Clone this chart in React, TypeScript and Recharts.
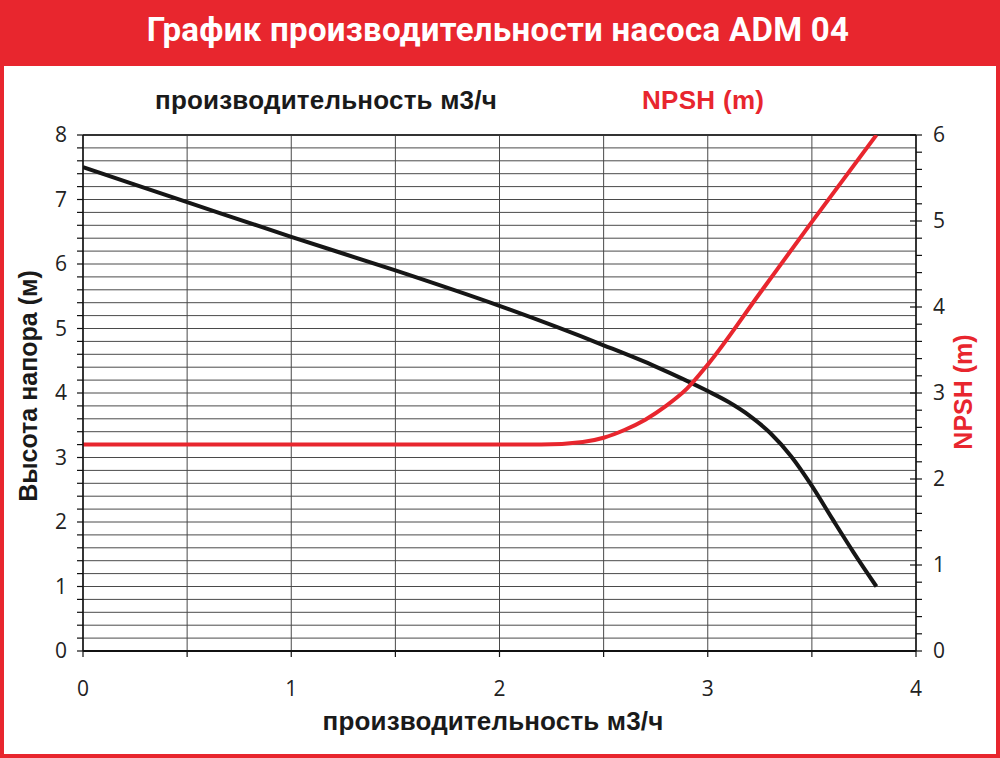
import React from 'react';
import { ComposedChart, Line, XAxis, YAxis, CartesianGrid, ReferenceLine } from 'recharts';

const TITLE = 'График производительности насоса ADM 04';
const X_LABEL = 'производительность м3/ч';
const Y_LABEL = 'Высота напора (м)';
const NPSH_LABEL = 'NPSH (m)';

const flowHead = [0, 0.5, 1, 1.5, 2, 2.5, 2.75, 3, 3.1, 3.2, 3.3, 3.4, 3.5, 3.6, 3.7, 3.81];
const headValues = [7.5, 6.96, 6.42, 5.9, 5.35, 4.74, 4.41, 4.03, 3.86, 3.65, 3.38, 3.02, 2.56, 2.04, 1.53, 1.0];

const flowNpsh = [0, 2.2, 2.4, 2.5, 2.6, 2.7, 2.8, 2.9, 3.0, 3.25, 3.5, 3.81];
const npshValues = [2.4, 2.4, 2.43, 2.48, 2.57, 2.69, 2.85, 3.05, 3.33, 4.16, 4.99, 6.0];

const xTicks = [0, 0.5, 1, 1.5, 2, 2.5, 3, 3.5, 4];
const headTicks = Array.from({ length: 41 }, (_, i) => i / 5);
const npshTicks = Array.from({ length: 31 }, (_, i) => i / 5);

const headData = flowHead.map((q, i) => ({ q, head: headValues[i] }));
const npshData = flowNpsh.map((q, i) => ({ q, npsh: npshValues[i] }));

const RED = '#E8262E';
const TICK_FONT = { fill: '#222', fontSize: 21, fontFamily: 'Open Sans' };
const BOLD = 'Liberation Sans, Arial, sans-serif';

const isInt = (v: number) => Math.abs(v - Math.round(v)) < 1e-6;
const intLabel = (v: number) => (isInt(v) ? String(Math.round(v)) : '');

const RIGHT_TICK_SIZE = 6;
const RIGHT_TICK_MARGIN = 11;

const RightTick = (props: any) => {
  const { x, y, payload } = props;
  const v = payload.value as number;
  const axisX = x - RIGHT_TICK_SIZE - RIGHT_TICK_MARGIN;
  if (!isInt(v)) return <g />;
  return (
    <g>
      <line x1={axisX - 6} x2={axisX} y1={y} y2={y} stroke="#111" strokeWidth={1.2} />
      <text x={x} y={y} dy="0.35em" textAnchor="start" {...TICK_FONT}>
        {String(Math.round(v))}
      </text>
    </g>
  );
};

export default function App() {
  return (
    <div style={{ position: 'absolute', left: 0, top: 0, width: 1000, height: 758, background: '#fff', overflow: 'hidden' }}>
      <div style={{ position: 'absolute', left: 0, top: 0, width: 1000, height: 66, background: RED }} />
      <div
        style={{
          position: 'absolute', left: 0, top: 0, width: 1000, height: 758, boxSizing: 'border-box',
          borderLeft: `4px solid ${RED}`, borderRight: `4px solid ${RED}`, borderBottom: `4px solid ${RED}`,
        }}
      />
      <div style={{ position: 'absolute', left: 0, top: 0 }}>
        <ComposedChart
          width={1000}
          height={758}
          margin={{ top: 135, right: 24, bottom: 47, left: 33 }}
        >
          <CartesianGrid yAxisId="h" stroke="#4a4a4a" strokeWidth={1} horizontal vertical />
          <XAxis
            dataKey="q"
            type="number"
            domain={[0, 4]}
            ticks={xTicks}
            tickFormatter={intLabel}
            height={60}
            tickSize={6}
            tickMargin={24}
            axisLine={{ stroke: '#111', strokeWidth: 2 }}
            tickLine={{ stroke: '#111', strokeWidth: 1.2 }}
            tick={TICK_FONT}
            allowDataOverflow
            interval={0}
          />
          <YAxis
            yAxisId="h"
            orientation="left"
            type="number"
            domain={[0, 8]}
            ticks={headTicks}
            tickFormatter={intLabel}
            width={50}
            tickSize={6}
            tickMargin={10}
            axisLine={{ stroke: '#111', strokeWidth: 1.5 }}
            tickLine={{ stroke: '#111', strokeWidth: 1.2 }}
            tick={TICK_FONT}
            interval={0}
            allowDataOverflow
          />
          <YAxis
            yAxisId="n"
            orientation="right"
            type="number"
            domain={[0, 6]}
            ticks={npshTicks}
            width={60}
            tickSize={RIGHT_TICK_SIZE}
            tickMargin={RIGHT_TICK_MARGIN}
            axisLine={{ stroke: '#111', strokeWidth: 1.5 }}
            tickLine={{ stroke: '#111', strokeWidth: 1.2 }}
            tick={<RightTick />}
            interval={0}
            allowDataOverflow
          />
          <ReferenceLine yAxisId="h" y={8} stroke="#333" strokeWidth={2} />
          <Line
            data={headData}
            yAxisId="h"
            dataKey="head"
            type="monotone"
            stroke="#161616"
            strokeWidth={4}
            dot={false}
            isAnimationActive={false}
          />
          <Line
            data={npshData}
            yAxisId="n"
            dataKey="npsh"
            type="monotone"
            stroke={RED}
            strokeWidth={4}
            dot={false}
            isAnimationActive={false}
          />
        </ComposedChart>
      </div>
      <svg width={1000} height={758} style={{ position: 'absolute', left: 0, top: 0, pointerEvents: 'none' }}>
        <text x={498} y={41} textAnchor="middle" fill="#fff" fontFamily="Roboto" fontWeight={700} fontSize={33} letterSpacing={0.3}>
          {TITLE}
        </text>
        <text x={155} y={109} textAnchor="start" fill="#1a1a1a" fontFamily={BOLD} fontWeight={700} fontSize={26} letterSpacing={0.2}>
          {X_LABEL}
        </text>
        <text x={642} y={109} textAnchor="start" fill={RED} fontFamily={BOLD} fontWeight={700} fontSize={26} letterSpacing={0.3}>
          {NPSH_LABEL}
        </text>
        <text x={493} y={730} textAnchor="middle" fill="#1a1a1a" fontFamily={BOLD} fontWeight={700} fontSize={26} letterSpacing={0.15}>
          {X_LABEL}
        </text>
        <text
          x={37}
          y={386}
          textAnchor="middle"
          transform="rotate(-90 37 386)"
          fill="#1a1a1a"
          fontFamily={BOLD}
          fontWeight={700}
          fontSize={25}
        >
          {Y_LABEL}
        </text>
        <text
          x={972}
          y={392}
          textAnchor="middle"
          transform="rotate(-90 972 392)"
          fill={RED}
          fontFamily={BOLD}
          fontWeight={700}
          fontSize={25}
        >
          {NPSH_LABEL}
        </text>
      </svg>
    </div>
  );
}
